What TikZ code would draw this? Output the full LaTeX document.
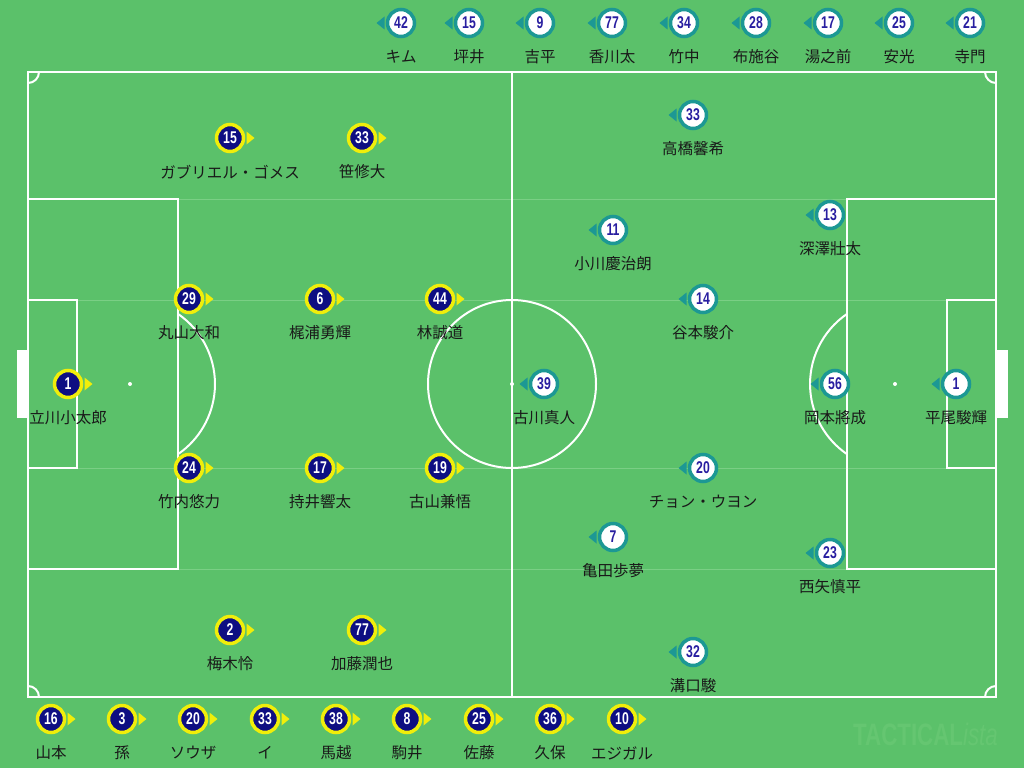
\documentclass[tikz,border=0pt]{standalone}
\usepackage{fontspec}
\newfontfamily\jp{Noto Sans CJK JP}
\newfontfamily\numfont[FakeStretch=0.72]{Liberation Sans}
\definecolor{pitch}{RGB}{91,193,106}
\definecolor{faint}{RGB}{122,207,133}
\definecolor{wm}{RGB}{101,198,113}
\definecolor{hy}{RGB}{240,238,10}
\definecolor{hnavy}{RGB}{14,14,130}
\definecolor{ateal}{RGB}{28,152,148}
\definecolor{anum}{RGB}{40,30,160}
\definecolor{nmcol}{RGB}{25,25,25}
\tikzset{
  line/.style={draw=white,line width=2pt},
  homec/.style={circle,fill=hnavy,draw=hy,line width=3.5pt,minimum size=27pt,inner sep=0pt,
     text=white,font=\numfont\bfseries\fontsize{17}{17}\selectfont},
  awayc/.style={circle,fill=white,draw=ateal,line width=3.5pt,minimum size=27pt,inner sep=0pt,
     text=anum,font=\numfont\bfseries\fontsize{17}{17}\selectfont},
  nm/.style={text=nmcol,font=\jp\fontsize{15.5}{16}\selectfont,inner sep=0pt}
}
\newcommand\homep[5]{%
  \node[homec] (#1) at (#2,#3) {#4};
  \fill[hy] (#1.center) ++(16.5,-6.5) -- ++(8,6.5) -- ++(-8,6.5) -- cycle;
  \node[nm] (#1-n) at (#2,#3+34) {#5};
}
\newcommand\awayp[5]{%
  \node[awayc] (#1) at (#2,#3) {#4};
  \fill[ateal] (#1.center) ++(-16.5,-6.5) -- ++(-8,6.5) -- ++(8,6.5) -- cycle;
  \node[nm] (#1-n) at (#2,#3+34) {#5};
}
\begin{document}
\begin{tikzpicture}[x=1pt,y=-1pt]
\useasboundingbox (0,0) rectangle (1024,768);
\fill[pitch] (0,0) rectangle (1024,768);
% faint guide lines
\foreach \yy in {199,300,468,569} \draw[faint,line width=1pt] (28,\yy) -- (996,\yy);
% goals
\fill[white] (17,350) rectangle (28,418);
\fill[white] (996,350) rectangle (1008,418);
% pitch lines
\draw[line] (28,72) rectangle (996,697);
\draw[line] (512,72) -- (512,697);
\draw[line] (512,384) circle[radius=84];
\draw[line] (28,199) rectangle (178,569);
\draw[line] (28,300) rectangle (77,468);
\draw[line] (996,199) rectangle (847,569);
\draw[line] (996,300) rectangle (947,468);
\draw[line] (178,313.9) arc[start angle=-55.6,end angle=55.6,radius=85];
\draw[line] (847,313.9) arc[start angle=235.6,end angle=124.4,radius=85];
\draw[line] (39,72) arc[start angle=0,end angle=90,radius=11];
\draw[line] (985,72) arc[start angle=180,end angle=90,radius=11];
\draw[line] (28,686) arc[start angle=270,end angle=360,radius=11];
\draw[line] (985,697) arc[start angle=180,end angle=270,radius=11];
\fill[white] (512,384) circle[radius=2];
\fill[white] (130,384) circle[radius=2];
\fill[white] (895,384) circle[radius=2];
% watermark
\node[text=wm,inner sep=0pt,anchor=east] (wmk) at (998,734)
  {\fontsize{31}{32}\selectfont{\numfont\bfseries TACTICAL}{\numfont\itshape ista}};
% home starters
\homep{h15}{230}{138}{15}{ガブリエル・ゴメス}
\homep{h33}{362}{138}{33}{笹修大}
\homep{h29}{189}{299}{29}{丸山大和}
\homep{h6}{320}{299}{6}{梶浦勇輝}
\homep{h44}{440}{299}{44}{林誠道}
\homep{h1}{68}{384}{1}{立川小太郎}
\homep{h24}{189}{468}{24}{竹内悠力}
\homep{h17}{320}{468}{17}{持井響太}
\homep{h19}{440}{468}{19}{古山兼悟}
\homep{h2}{230}{630}{2}{梅木怜}
\homep{h77}{362}{630}{77}{加藤潤也}
% home bench
\homep{hb16}{51}{719}{16}{山本}
\homep{hb3}{122}{719}{3}{孫}
\homep{hb20}{193}{719}{20}{ソウザ}
\homep{hb33}{265}{719}{33}{イ}
\homep{hb38}{336}{719}{38}{馬越}
\homep{hb8}{407}{719}{8}{駒井}
\homep{hb25}{479}{719}{25}{佐藤}
\homep{hb36}{550}{719}{36}{久保}
\homep{hb10}{622}{719}{10}{エジガル}
% away starters
\awayp{a33}{693}{115}{33}{高橋馨希}
\awayp{a11}{613}{230}{11}{小川慶治朗}
\awayp{a13}{830}{215}{13}{深澤壯太}
\awayp{a14}{703}{299}{14}{谷本駿介}
\awayp{a39}{544}{384}{39}{古川真人}
\awayp{a56}{835}{384}{56}{岡本將成}
\awayp{a1}{956}{384}{1}{平尾駿輝}
\awayp{a20}{703}{468}{20}{チョン・ウヨン}
\awayp{a7}{613}{537}{7}{亀田歩夢}
\awayp{a23}{830}{553}{23}{西矢慎平}
\awayp{a32}{693}{652}{32}{溝口駿}
% away bench
\awayp{ab42}{401}{23}{42}{キム}
\awayp{ab15}{469}{23}{15}{坪井}
\awayp{ab9}{540}{23}{9}{吉平}
\awayp{ab77}{612}{23}{77}{香川太}
\awayp{ab34}{684}{23}{34}{竹中}
\awayp{ab28}{756}{23}{28}{布施谷}
\awayp{ab17}{828}{23}{17}{湯之前}
\awayp{ab25}{899}{23}{25}{安光}
\awayp{ab21}{970}{23}{21}{寺門}
\end{tikzpicture}
\end{document}
